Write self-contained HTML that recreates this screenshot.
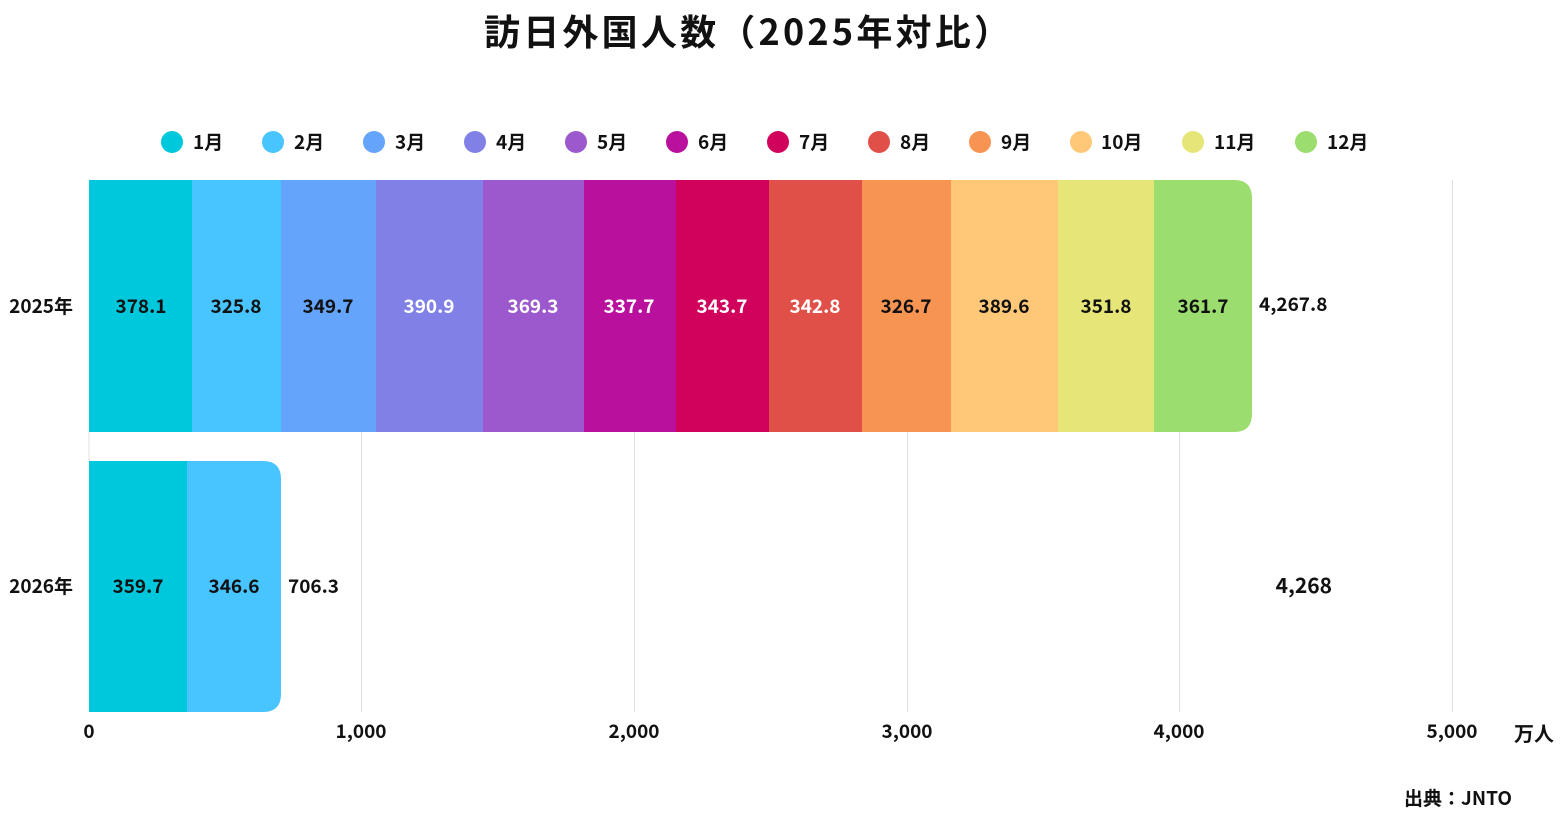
<!DOCTYPE html>
<html><head><meta charset="utf-8"><style>
html,body{margin:0;padding:0;background:#fff;}
svg text{font-family:"Noto Sans CJK JP",sans-serif;font-weight:bold;}
</style></head><body>
<svg width="1565" height="816" viewBox="0 0 1565 816" xmlns="http://www.w3.org/2000/svg">
<text x="484" y="45" font-size="36" textLength="526" lengthAdjust="spacing" fill="#111">訪日外国人数（2025年対比）</text>
<g stroke="#e0e0e0" stroke-width="1">
<line x1="361.5" y1="180" x2="361.5" y2="712"/>
<line x1="634.5" y1="180" x2="634.5" y2="712"/>
<line x1="907.5" y1="180" x2="907.5" y2="712"/>
<line x1="1179.5" y1="180" x2="1179.5" y2="712"/>
<line x1="1452.5" y1="180" x2="1452.5" y2="712"/>
<line x1="89" y1="432" x2="89" y2="461"/>
</g>
<g font-size="19" fill="#111">
<circle cx="172" cy="142" r="11" fill="#00C8DC"/><text x="193" y="149">1月</text>
<circle cx="273" cy="142" r="11" fill="#48C4FF"/><text x="294" y="149">2月</text>
<circle cx="374" cy="142" r="11" fill="#64A4FA"/><text x="395" y="149">3月</text>
<circle cx="475" cy="142" r="11" fill="#8080E6"/><text x="496" y="149">4月</text>
<circle cx="576" cy="142" r="11" fill="#9B59CD"/><text x="597" y="149">5月</text>
<circle cx="677" cy="142" r="11" fill="#B9119E"/><text x="698" y="149">6月</text>
<circle cx="778" cy="142" r="11" fill="#D0025C"/><text x="799" y="149">7月</text>
<circle cx="879" cy="142" r="11" fill="#E05048"/><text x="900" y="149">8月</text>
<circle cx="980" cy="142" r="11" fill="#F79452"/><text x="1001" y="149">9月</text>
<circle cx="1081" cy="142" r="11" fill="#FFC878"/><text x="1101" y="149">10月</text>
<circle cx="1193" cy="142" r="11" fill="#E6E678"/><text x="1214" y="149">11月</text>
<circle cx="1306" cy="142" r="11" fill="#9BDD6E"/><text x="1327" y="149">12月</text>
</g>
<rect x="89" y="180" width="103" height="252" fill="#00C8DC"/>
<rect x="192" y="180" width="89" height="252" fill="#48C4FF"/>
<rect x="281" y="180" width="95" height="252" fill="#64A4FA"/>
<rect x="376" y="180" width="107" height="252" fill="#8080E6"/>
<rect x="483" y="180" width="101" height="252" fill="#9B59CD"/>
<rect x="584" y="180" width="92" height="252" fill="#B9119E"/>
<rect x="676" y="180" width="93" height="252" fill="#D0025C"/>
<rect x="769" y="180" width="93" height="252" fill="#E05048"/>
<rect x="862" y="180" width="89" height="252" fill="#F79452"/>
<rect x="951" y="180" width="107" height="252" fill="#FFC878"/>
<rect x="1058" y="180" width="96" height="252" fill="#E6E678"/>
<path d="M1154 180 H1234 Q1252 180 1252 198 V414 Q1252 432 1234 432 H1154 Z" fill="#9BDD6E"/>
<g font-size="19" text-anchor="middle">
<text x="141" y="313" fill="#111">378.1</text>
<text x="236" y="313" fill="#111">325.8</text>
<text x="328" y="313" fill="#111">349.7</text>
<text x="429" y="313" fill="#fff">390.9</text>
<text x="533" y="313" fill="#fff">369.3</text>
<text x="629" y="313" fill="#fff">337.7</text>
<text x="722" y="313" fill="#fff">343.7</text>
<text x="815" y="313" fill="#fff">342.8</text>
<text x="906" y="313" fill="#111">326.7</text>
<text x="1004" y="313" fill="#111">389.6</text>
<text x="1106" y="313" fill="#111">351.8</text>
<text x="1203" y="313" fill="#111">361.7</text>
</g>
<text x="1259" y="311" font-size="19" fill="#111">4,267.8</text>
<rect x="89" y="461" width="98" height="251" fill="#00C8DC"/>
<path d="M187 461 H263 Q281 461 281 479 V694 Q281 712 263 712 H187 Z" fill="#48C4FF"/>
<g font-size="19" text-anchor="middle" fill="#111">
<text x="138" y="593">359.7</text>
<text x="234" y="593">346.6</text>
</g>
<text x="288" y="593" font-size="19" fill="#111">706.3</text>
<text x="1332" y="593" font-size="21" text-anchor="end" fill="#111">4,268</text>
<text x="73" y="313" font-size="19" text-anchor="end" fill="#111">2025年</text>
<text x="73" y="593" font-size="19" text-anchor="end" fill="#111">2026年</text>
<g font-size="19" text-anchor="middle" fill="#111">
<text x="89" y="738">0</text>
<text x="361" y="738">1,000</text>
<text x="634" y="738">2,000</text>
<text x="907" y="738">3,000</text>
<text x="1179" y="738">4,000</text>
<text x="1452" y="738">5,000</text>
</g>
<text x="1514" y="741" font-size="20" fill="#111">万人</text>
<text x="1512" y="805" font-size="19" text-anchor="end" fill="#111">出典：JNTO</text>
</svg>
</body></html>
